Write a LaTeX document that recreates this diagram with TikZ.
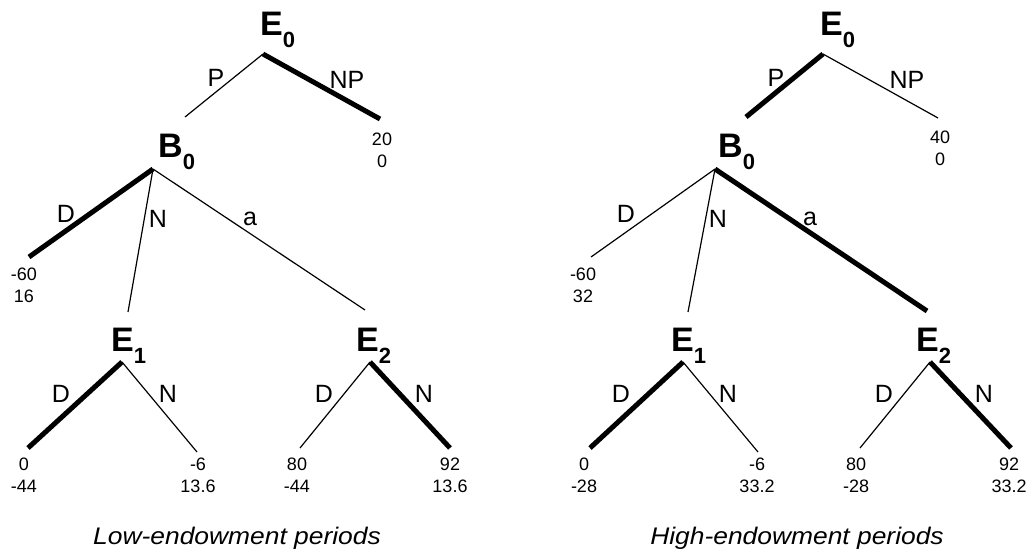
\documentclass[tikz,border=0pt]{standalone}
\usepackage{fontspec}
\setmainfont{Liberation Sans}
\tikzset{
  thinline/.style={line width=1.2pt},
  thickline/.style={line width=5pt},
  lbl/.style={font=\fontsize{34}{34}\selectfont\bfseries, inner sep=0pt, anchor=base west},
  elbl/.style={font=\fontsize{25}{25}\selectfont, inner sep=0pt, anchor=center},
  pay/.style={font=\fontsize{18}{22}\selectfont, inner sep=0pt, align=center, anchor=north},
  captext/.style={font=\fontsize{24}{24}\selectfont\itshape, inner sep=0pt, anchor=base},
}
\newcommand\nsub[1]{\raisebox{-12pt}{\fontsize{22}{22}\selectfont\bfseries #1}}
\begin{document}
\begin{tikzpicture}[x=1pt,y=-1pt]
\useasboundingbox (0,0) rectangle (1032,552);
% ---------------- Left tree ----------------
\begin{scope}
  \node[lbl] (LE0t) at (260,35) {E\nsub{0}};
  \node[lbl] (LB0t) at (158,157) {B\nsub{0}};
  \node[lbl] (LE1t) at (111,351) {E\nsub{1}};
  \node[lbl] (LE2t) at (356,351) {E\nsub{2}};
  \coordinate (LE0) at (263,54);
  \coordinate (LPend) at (185,117);
  \coordinate (LNPend) at (380,119);
  \coordinate (LB0) at (153,169);
  \coordinate (LDend) at (29,257);
  \coordinate (LNend) at (128,312);
  \coordinate (Laend) at (365,310);
  \coordinate (LE1) at (122,362);
  \coordinate (LE1D) at (28,448);
  \coordinate (LE1N) at (197,452);
  \coordinate (LE2) at (370,362);
  \coordinate (LE2D) at (300,448);
  \coordinate (LE2N) at (450,448);
  \draw[thinline] (LE0) -- (LPend);
  \draw[thickline] (LE0) -- (LNPend);
  \draw[thickline] (LB0) -- (LDend);
  \draw[thinline] (LB0) -- (LNend);
  \draw[thinline] (LB0) -- (Laend);
  \draw[thickline] (LE1) -- (LE1D);
  \draw[thinline] (LE1) -- (LE1N);
  \draw[thinline] (LE2) -- (LE2D);
  \draw[thickline] (LE2) -- (LE2N);
  \node[elbl] (LlP) at (216,78) {P};
  \node[elbl] (LlNP) at (347,80) {NP};
  \node[elbl] (LlD) at (66,214) {D};
  \node[elbl] (LlN) at (158,219) {N};
  \node[elbl] (Lla) at (250,219) {a};
  \node[elbl] (LlE1D) at (61,394) {D};
  \node[elbl] (LlE1N) at (168,394) {N};
  \node[elbl] (LlE2D) at (324,394) {D};
  \node[elbl] (LlE2N) at (424,394) {N};
  \node[pay] (Lp1) at (382,133) {20\\0};
  \node[pay] (Lp2) at (24,268) {-60\\16};
  \node[pay] (Lp3) at (24,458) {0\\-44};
  \node[pay] (Lp4) at (198,458) {-6\\13.6};
  \node[pay] (Lp5) at (297,458) {80\\-44};
  \node[pay] (Lp6) at (450,458) {92\\13.6};
  \node[captext] (Lcap) at (237,544) {\scalebox{1.1}[1]{Low-endowment periods}};
\end{scope}
% ---------------- Right tree ----------------
\begin{scope}[xshift=560pt]
  \node[lbl] (RE0t) at (260,35) {E\nsub{0}};
  \node[lbl] (RB0t) at (158,157) {B\nsub{0}};
  \node[lbl] (RE1t) at (111,351) {E\nsub{1}};
  \node[lbl] (RE2t) at (356,351) {E\nsub{2}};
  \coordinate (RE0) at (263,54);
  \coordinate (RPend) at (186,117);
  \coordinate (RNPend) at (378,118);
  \coordinate (RB0) at (155,169);
  \coordinate (RDend) at (31,257);
  \coordinate (RNend) at (128,312);
  \coordinate (Raend) at (367,311);
  \coordinate (RE1) at (123,362);
  \coordinate (RE1D) at (30,448);
  \coordinate (RE1N) at (198,452);
  \coordinate (RE2) at (370,362);
  \coordinate (RE2D) at (300,448);
  \coordinate (RE2N) at (451,448);
  \draw[thickline] (RE0) -- (RPend);
  \draw[thinline] (RE0) -- (RNPend);
  \draw[thinline] (RB0) -- (RDend);
  \draw[thinline] (RB0) -- (RNend);
  \draw[thickline] (RB0) -- (Raend);
  \draw[thickline] (RE1) -- (RE1D);
  \draw[thinline] (RE1) -- (RE1N);
  \draw[thinline] (RE2) -- (RE2D);
  \draw[thickline] (RE2) -- (RE2N);
  \node[elbl] (RlP) at (216,78) {P};
  \node[elbl] (RlNP) at (347,80) {NP};
  \node[elbl] (RlD) at (66,214) {D};
  \node[elbl] (RlN) at (158,219) {N};
  \node[elbl] (Rla) at (250,219) {a};
  \node[elbl] (RlE1D) at (61,394) {D};
  \node[elbl] (RlE1N) at (168,394) {N};
  \node[elbl] (RlE2D) at (324,394) {D};
  \node[elbl] (RlE2N) at (424,394) {N};
  \node[pay] (Rp1) at (380,131) {40\\0};
  \node[pay] (Rp2) at (23,268) {-60\\32};
  \node[pay] (Rp3) at (24,458) {0\\-28};
  \node[pay] (Rp4) at (197,458) {-6\\33.2};
  \node[pay] (Rp5) at (296,458) {80\\-28};
  \node[pay] (Rp6) at (449,458) {92\\33.2};
  \node[captext] (Rcap) at (237,544) {\scalebox{1.1}[1]{High-endowment periods}};
\end{scope}
\end{tikzpicture}
\end{document}
